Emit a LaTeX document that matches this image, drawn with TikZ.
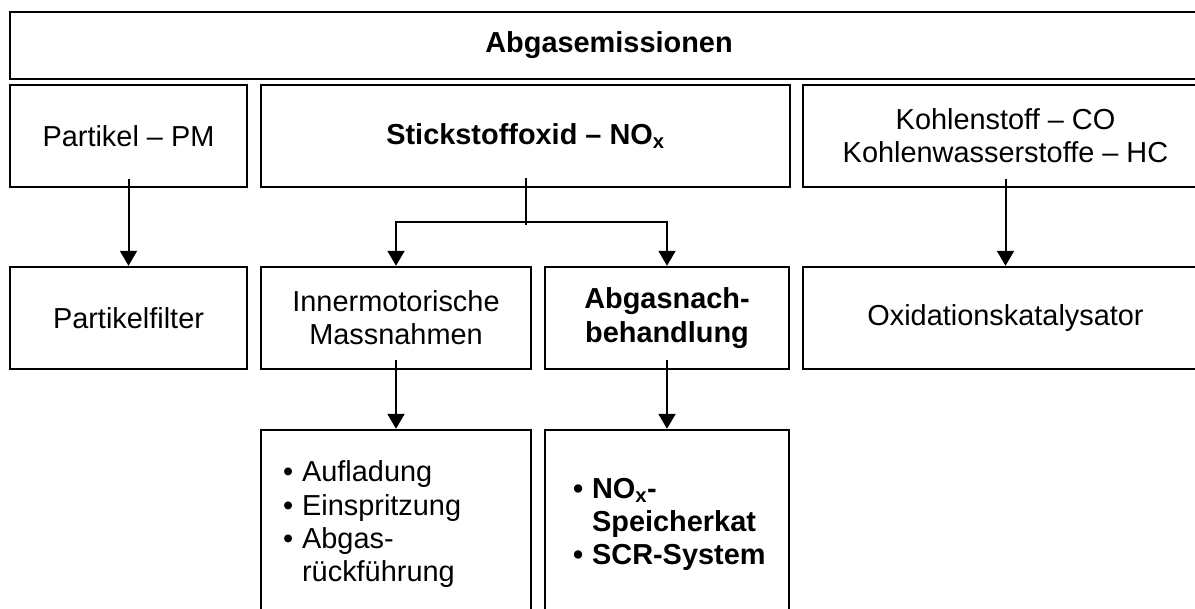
\documentclass[tikz,border=0pt]{standalone}
\usepackage{fontspec}
\setmainfont{Liberation Sans}
\usetikzlibrary{arrows.meta}

\begin{document}
\begin{tikzpicture}[
    x=1pt, y=-1pt,
    font=\fontsize{28.9pt}{33.2pt}\selectfont,
    cell/.style={draw, line width=2.4pt, minimum height=102pt, inner sep=0pt, align=center},
    listcell/.style={cell, minimum height=190pt, align=left},
    arrow/.style={-{Triangle[length=15pt,width=17pt]}, line width=2pt},
]

% Page
\useasboundingbox (0,0) rectangle (1195,609);
\clip (0,0) rectangle (1195,609);
\fill[white] (0,0) rectangle (1195,609);

% Title
\node[cell, minimum width=1198pt, minimum height=67pt] (title) at (609,45.5) {\textbf{Abgasemissionen}};

% Emissions
\node[cell, minimum width=237pt] (pm) at (128.5,136) {Partikel -- PM};
\node[cell, minimum width=529pt] (nox) at (525.5,136) {\textbf{Stickstoffoxid -- NO\textsubscript{x}}};
\node[cell, minimum width=405pt] (co) at (1005.5,136) {Kohlenstoff -- CO\\Kohlenwasserstoffe -- HC};

% Measures
\node[cell, minimum width=237pt] (filter) at (128.5,318) {Partikelfilter};
\node[cell, minimum width=270pt] (inner) at (396,318) {Innermotorische\\Massnahmen};
\node[cell, minimum width=244pt] (after) at (667,318) {\textbf{Abgasnach-}\\\textbf{behandlung}};
\node[cell, minimum width=405pt] (oxi) at (1005.5,318) {Oxidationskatalysator};

% Details
\node[listcell, text width=226pt, inner xsep=22pt, minimum width=270pt] (innerlist) at (396,525) {%
  \begin{tabular}{@{}l@{\hspace{9pt}}l@{}}
  \textbullet & Aufladung\\
  \textbullet & Einspritzung\\
  \textbullet & Abgas-\\
              & rückführung
  \end{tabular}};
\node[listcell, text width=188pt, inner xsep=28pt, minimum width=244pt] (afterlist) at (667,525) {%
  \bfseries
  \begin{tabular}{@{}l@{\hspace{9pt}}l@{}}
  \textbullet & NO\textsubscript{x}-\\
              & Speicherkat\\
  \textbullet & SCR-System
  \end{tabular}};

% Arrows
\coordinate (split) at (525.5,222);
\draw[arrow] ([yshift=9pt]pm.south) -- (filter.north);
\draw[arrow] ([yshift=9pt]co.south) -- (oxi.north);
\draw[line width=2pt] ([yshift=10pt]nox.south) -- ([yshift=-3pt]split);
\draw[arrow] (split) -| (inner.north);
\draw[arrow] (split) -| (after.north);
\draw[arrow] ([yshift=10pt]inner.south) -- (innerlist.north);
\draw[arrow] ([yshift=10pt]after.south) -- (afterlist.north);

\end{tikzpicture}
\end{document}
